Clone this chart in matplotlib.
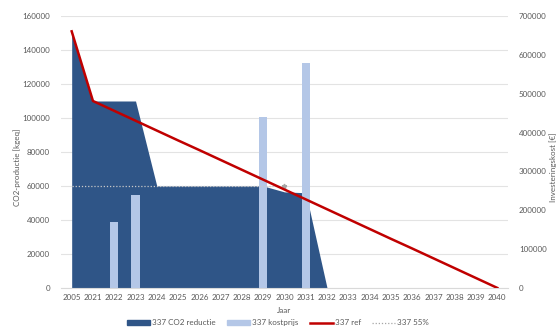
import numpy as np
import matplotlib.pyplot as plt
from matplotlib.patches import Patch
from matplotlib.lines import Line2D

years = ['2005'] + [str(y) for y in range(2021, 2041)]
co2_reductie = [151000, 110000, 110000, 110000, 60000, 60000, 60000, 60000, 60000,
                60000, 56500, 56000, 0, 0, 0, 0, 0, 0, 0, 0, 0]
kostprijs = [0, 0, 170000, 238000, 0, 0, 0, 0, 0, 440000, 0, 580000,
             0, 0, 0, 0, 0, 0, 0, 0, 0]
ref = [151000, 110000, 104200, 98400, 92600, 86800, 81100, 75300, 69500, 63700,
       57900, 52100, 46300, 40500, 34700, 28900, 23200, 17400, 11600, 5800, 0]
pct55 = [60000] * 11  # 2005 .. 2030

area_col = '#2f5587'
bar_col = '#b4c7e7'
red = '#c00000'
txt = '#595959'
fs = 5.8

plt.rcParams['font.family'] = ['Lato', 'DejaVu Sans']

fig = plt.figure(figsize=(5.6, 3.34), dpi=100)
ax = fig.add_axes([0.109, 0.138, 0.798, 0.814])
ax2 = ax.twinx()

x = np.arange(len(years))
ax.fill_between(x, co2_reductie, color=area_col, lw=0, zorder=2)
ax2.bar(x, kostprijs, width=0.4, color=bar_col, zorder=2)
ax2.plot(x[:len(pct55)], pct55, transform=ax.transData, color='#c8c8c8',
         ls=(0, (1, 1.5)), lw=0.9, zorder=3)
ax2.plot(x[len(pct55) - 1], pct55[-1], transform=ax.transData, marker='*',
         color='#a6a6a6', ms=3.5, zorder=3)
ax2.plot(x, ref, transform=ax.transData, color=red, lw=1.8, zorder=4)

ax.set_xlim(-0.5, len(years) - 0.5)
ax.set_ylim(0, 160000)
ax2.set_ylim(0, 700000)
ax.set_yticks(np.arange(0, 160001, 20000))
ax2.set_yticks(np.arange(0, 700001, 100000))
ax.set_xticks(x)
ax.set_xticklabels(years)
ax.grid(axis='y', color='#e3e3e3', lw=0.8, zorder=0)
ax.set_axisbelow(True)

for a in (ax, ax2):
    for s in a.spines.values():
        s.set_visible(False)
    a.tick_params(length=0, labelsize=fs, colors=txt)
ax.spines['bottom'].set_visible(True)
ax.spines['bottom'].set_color('#d9d9d9')
ax.tick_params(axis='y', pad=8)
ax2.tick_params(axis='y', pad=8)
ax.tick_params(axis='x', pad=4.5)

ax.set_ylabel('CO2-productie [kgeq]', fontsize=fs, color=txt)
ax2.set_ylabel('Investeringskost [€]', fontsize=fs, color=txt)
ax.yaxis.set_label_coords(21 / 560, 0.5, transform=fig.transFigure)
ax2.yaxis.set_label_coords(549 / 560, 0.5, transform=fig.transFigure)
ax.set_xlabel('Jaar', fontsize=fs, color=txt, labelpad=4)

handles = [Patch(color=area_col), Patch(color=bar_col),
           Line2D([], [], color=red, lw=1.8),
           Line2D([], [], color='#a6a6a6', ls=(0, (1, 1.5)), lw=0.9)]
labels = ['337 CO2 reductie', '337 kostprijs', '337 ref', '337 55%']
fig.legend(handles, labels, loc='center', bbox_to_anchor=(0.497, 0.033), ncol=4,
           frameon=False, fontsize=fs, handlelength=2.8, handleheight=0.6,
           columnspacing=1.4, handletextpad=0.3, labelcolor=txt)

fig.savefig('out.png', dpi=100)
